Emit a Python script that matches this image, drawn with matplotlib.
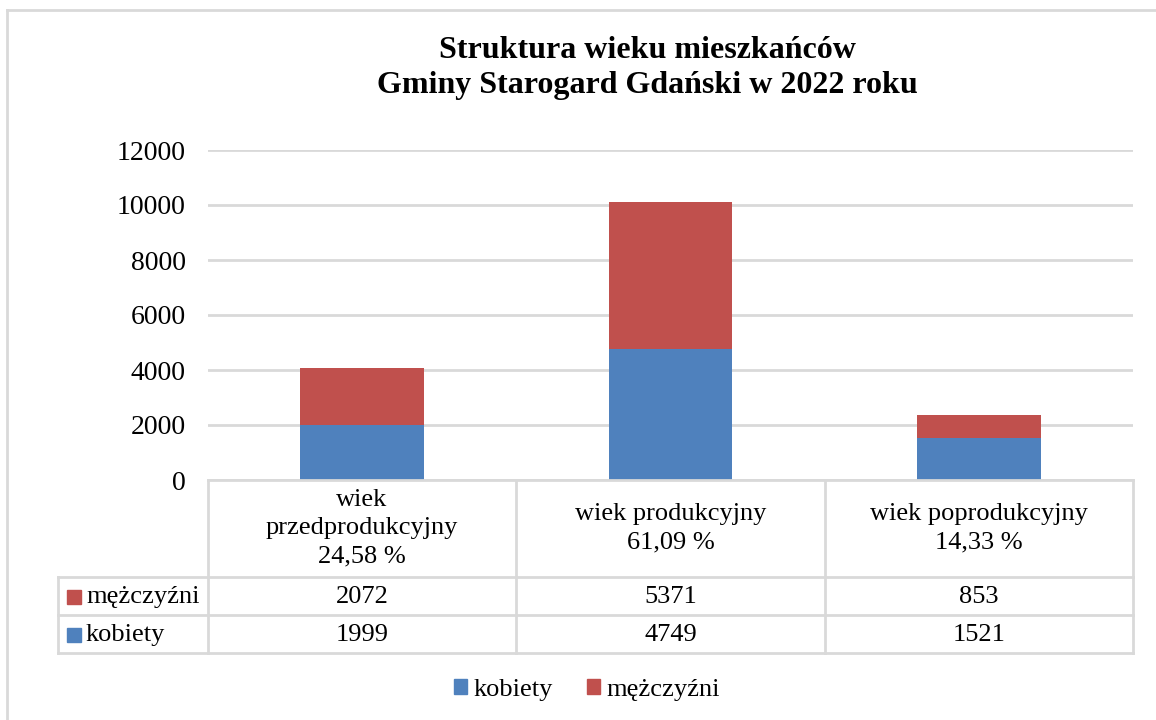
import matplotlib
matplotlib.use("Agg")
import matplotlib.pyplot as plt
from matplotlib.lines import Line2D
from matplotlib.patches import Patch, Rectangle

plt.rcParams['font.family'] = ['Liberation Serif', 'DejaVu Serif']

# data
categories = ['wiek\nprzedprodukcyjny', 'wiek produkcyjny', 'wiek poprodukcyjny']
shares = ['24,58 %', '61,09 %', '14,33 %']
kobiety = [1999, 4749, 1521]
mezczyzni = [2072, 5371, 853]
series_names = ['kobiety', 'mężczyźni']

blue = '#4F81BD'
red = '#C0504D'
grid_c = '#D9D9D9'

W, H = 1156, 720
fig = plt.figure(figsize=(W / 100, H / 100), dpi=100)


def fx(x):
    return x / W


def fy(y):
    return 1 - y / H


ax = fig.add_axes([fx(208), fy(480), fx(1133) - fx(208), fy(150) - fy(480)])
xs = range(len(categories))
ax.bar(xs, kobiety, width=0.4, color=blue, zorder=3)
ax.bar(xs, mezczyzni, width=0.4, bottom=kobiety, color=red, zorder=3)
ax.set_xlim(-0.5, 2.5)
ax.set_ylim(0, 12000)
ax.set_yticks(range(0, 12001, 2000))
ax.yaxis.grid(True, color=grid_c, linewidth=2)
ax.set_axisbelow(True)
ax.tick_params(axis='y', length=0, pad=16, labelsize=20)
ax.set_xticks([])
for s in ax.spines.values():
    s.set_visible(False)

fig.text(fx(647), fy(68), 'Struktura wieku mieszkańców\nGminy Starogard Gdański w 2022 roku',
         ha='center', va='center', fontsize=23, fontweight='bold', linespacing=1.3)

# chart border (left and top)
fig.add_artist(Line2D([fx(7), fx(7)], [fy(10), 0], color=grid_c, linewidth=2))
fig.add_artist(Line2D([fx(7), 1], [fy(10), fy(10)], color=grid_c, linewidth=2))

# data table
col_x = [208, 516, 825, 1133]
row_y = [480, 577, 615, 653]
lw = 2
left = 58
fig.add_artist(Line2D([fx(208), fx(1133)], [fy(480), fy(480)], color=grid_c, linewidth=lw))
for y in row_y[1:]:
    fig.add_artist(Line2D([fx(left), fx(1133)], [fy(y), fy(y)], color=grid_c, linewidth=lw))
for x in col_x:
    fig.add_artist(Line2D([fx(x), fx(x)], [fy(480), fy(653)], color=grid_c, linewidth=lw))
fig.add_artist(Line2D([fx(left), fx(left)], [fy(577), fy(653)], color=grid_c, linewidth=lw))

for i, cat in enumerate(categories):
    cx = (col_x[i] + col_x[i + 1]) / 2
    fig.text(fx(cx), fy(528), cat + '\n' + shares[i], ha='center', va='center',
             fontsize=19, linespacing=1.38)
    fig.text(fx(cx), fy(597), str(mezczyzni[i]), ha='center', va='center', fontsize=19)
    fig.text(fx(cx), fy(635), str(kobiety[i]), ha='center', va='center', fontsize=19)

for name, color, yc in [(series_names[1], red, 597), (series_names[0], blue, 635)]:
    fig.add_artist(Rectangle((fx(67), fy(yc + 7)), fx(14), fy(yc - 7) - fy(yc + 7),
                             transform=fig.transFigure, color=color))
    fig.text(fx(86), fy(yc), name, ha='left', va='center', fontsize=19)

handles = [Patch(color=blue, label=series_names[0]), Patch(color=red, label=series_names[1])]
fig.legend(handles=handles, loc='center', bbox_to_anchor=(fx(587), fy(690)), ncol=2,
           frameon=False, fontsize=19, handlelength=0.5, handleheight=0.5,
           handletextpad=0.25, columnspacing=1.3)

fig.savefig('out.png', dpi=100)
